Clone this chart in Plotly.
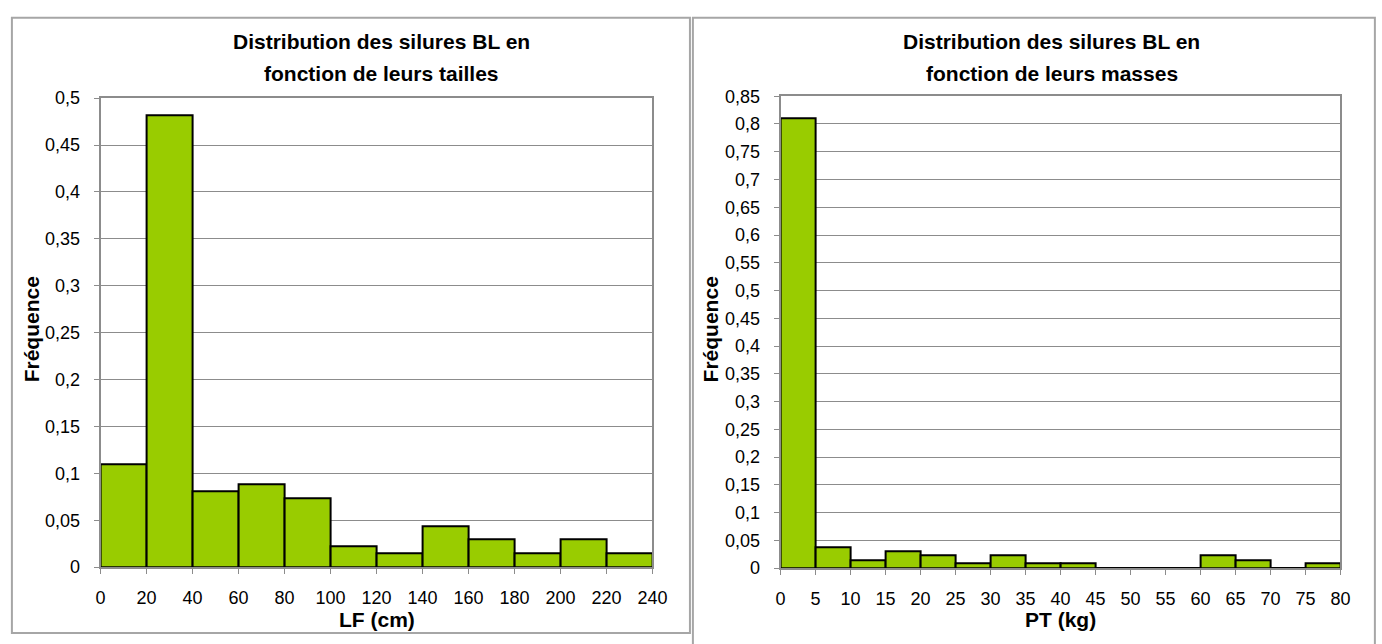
import plotly.graph_objects as go

W, H = 1382, 644

# ---- data ----
lf_edges = [0, 20, 40, 60, 80, 100, 120, 140, 160, 180, 200, 220, 240]
lf_freq = [0.110, 0.482, 0.081, 0.088, 0.074, 0.022, 0.015, 0.044, 0.030, 0.015, 0.030, 0.015]

pt_edges = [0, 5, 10, 15, 20, 25, 30, 35, 40, 45, 50, 55, 60, 65, 70, 75, 80]
pt_freq = [0.811, 0.038, 0.015, 0.030, 0.023, 0.009, 0.023, 0.009, 0.009,
           0.0, 0.0, 0.0, 0.023, 0.015, 0.0, 0.009]

title_lines = [["Distribution des silures BL en", "fonction de leurs tailles"],
               ["Distribution des silures BL en", "fonction de leurs masses"]]
x_titles = ["LF (cm)", "PT (kg)"]
y_title = "Fréquence"

FONT = "Liberation Sans, Arial, sans-serif"
GREEN = "#99CC00"
GRID = "#8c8c8c"


def px_x(p):
    return p / W


def px_y(p):
    return 1 - p / H


def centers(edges):
    return [(a + b) / 2 for a, b in zip(edges[:-1], edges[1:])]


def widths(edges):
    return [b - a for a, b in zip(edges[:-1], edges[1:])]


fig = go.Figure()
fig.add_trace(go.Bar(x=centers(lf_edges), y=lf_freq, width=widths(lf_edges),
                     marker=dict(color=GREEN, line=dict(color="black", width=2)),
                     xaxis="x", yaxis="y", showlegend=False, hoverinfo="skip"))
fig.add_trace(go.Bar(x=centers(pt_edges), y=pt_freq, width=widths(pt_edges),
                     marker=dict(color=GREEN, line=dict(color="black", width=2)),
                     xaxis="x2", yaxis="y2", showlegend=False, hoverinfo="skip"))

tickfont = dict(family=FONT, size=18, color="black")
common_x = dict(showgrid=False, showline=True, linecolor=GRID, linewidth=2, mirror=True,
                ticks="outside", ticklen=5, tickcolor=GRID, tickwidth=1,
                tickfont=tickfont, zeroline=False, fixedrange=True, ticklabelstandoff=8)
common_y = dict(showgrid=True, gridcolor=GRID, gridwidth=1, showline=True, linecolor=GRID,
                linewidth=2, mirror=True, ticks="outside", ticklen=5, tickcolor=GRID,
                tickwidth=1, tickfont=tickfont, zeroline=True, zerolinecolor="black",
                zerolinewidth=2, fixedrange=True, ticklabelstandoff=10)

fig.update_layout(
    width=W, height=H, margin=dict(l=0, r=0, t=0, b=0),
    paper_bgcolor="white", plot_bgcolor="white",
    separators=", ", bargap=0,
    xaxis=dict(domain=[px_x(97), px_x(657)], range=[lf_edges[0], lf_edges[-1]],
               tickmode="array", tickvals=lf_edges, anchor="y", **common_x),
    yaxis=dict(domain=[px_y(575), px_y(91)], range=[0, 0.5], dtick=0.05,
               anchor="x", **common_y),
    xaxis2=dict(domain=[px_x(787), px_x(1355)], range=[pt_edges[0], pt_edges[-1]],
                tickmode="array", tickvals=pt_edges, anchor="y2", **common_x),
    yaxis2=dict(domain=[px_y(576), px_y(89)], range=[0, 0.85], dtick=0.05,
                anchor="x2", **common_y),
)

# chart borders
fig.add_shape(type="rect", xref="paper", yref="paper",
              x0=px_x(7), x1=px_x(695), y0=px_y(643), y1=px_y(8),
              line=dict(color="#a6a6a6", width=2), fillcolor="rgba(0,0,0,0)", layer="below")
fig.add_shape(type="rect", xref="paper", yref="paper",
              x0=px_x(698), x1=px_x(1390), y0=px_y(660), y1=px_y(8),
              line=dict(color="#a6a6a6", width=2), fillcolor="rgba(0,0,0,0)", layer="below")

ann = []
for cx, lines in [(382, title_lines[0]), (1062, title_lines[1])]:
    for cy, t in zip([33, 66], lines):
        ann.append(dict(text="<b>" + t + "</b>", x=px_x(cx), y=px_y(cy),
                        xref="paper", yref="paper", showarrow=False, xanchor="center",
                        yanchor="middle", font=dict(family=FONT, size=21, color="black")))
for cx, t in [(377, x_titles[0]), (1071, x_titles[1])]:
    ann.append(dict(text="<b>" + t + "</b>", x=px_x(cx), y=px_y(629), xref="paper", yref="paper",
                    showarrow=False, xanchor="center", yanchor="middle",
                    font=dict(family=FONT, size=21, color="black")))
for cx, cy in [(27, 330), (716, 330)]:
    ann.append(dict(text="<b>" + y_title + "</b>", x=px_x(cx), y=px_y(cy), xref="paper",
                    yref="paper", showarrow=False, xanchor="center", yanchor="middle",
                    textangle=-90, font=dict(family=FONT, size=21, color="black")))
fig.update_layout(annotations=ann)

fig.write_html("out.html", config={"displayModeBar": False},
               post_script="document.body.style.margin='0';document.body.style.overflow='hidden';")
